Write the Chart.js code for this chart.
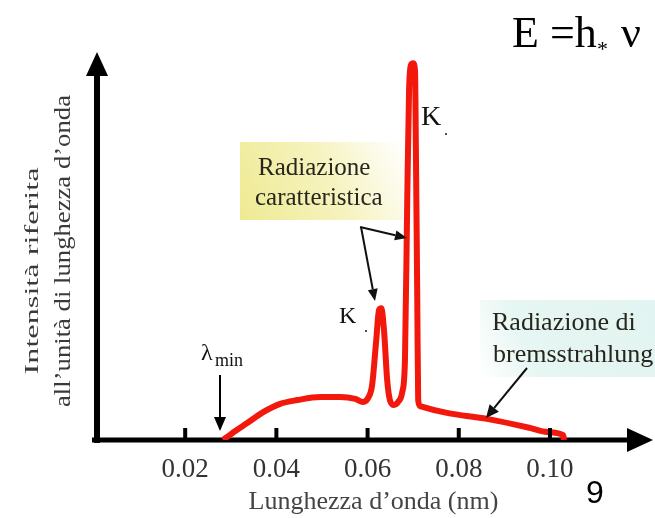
<!DOCTYPE html>
<html>
<head>
<meta charset="utf-8">
<script src="https://cdn.jsdelivr.net/npm/chart.js@4.4.1/dist/chart.umd.min.js"></script>
<style>
html,body{margin:0;padding:0;background:#fff;}
#wrap{width:655px;height:518px;position:relative;}
</style>
</head>
<body>
<div id="wrap"><canvas id="c" width="655" height="518"></canvas></div>
<script>
// Wavelength (nm) and intensity (arbitrary units, Kα peak = 100)
const wavelength = [0.0283,0.0310,0.0336,0.0371,0.0408,0.0446,0.0496,0.0540,0.0573,0.0590,0.0601,0.0610,0.0619,0.0625,0.0630,0.0636,0.0643,0.0649,0.0658,0.0667,0.0676,0.0682,0.0687,0.0691,0.0695,0.0700,0.0704,0.0706,0.0709,0.0711,0.0715,0.0774,0.0862,0.0956,0.0994,0.1029,0.1031];
const intensity  = [0,2.4,4.5,7.4,9.6,10.6,11.4,11.4,10.9,10.1,11.1,14.6,26.5,34.5,35.0,29.2,15.9,10.6,9.3,10.1,12.7,21.2,63.7,92.8,99.5,100,98.1,76.9,37.1,10.6,9.0,7.2,5.6,3.2,2.1,1.3,0];
const xTickValues = [0.02,0.04,0.06,0.08,0.10];
const xTickLabels = ['0.02','0.04','0.06','0.08','0.10'];
const xTitle = "Lunghezza d\u2019onda (nm)";
const yTitleLines = ["Intensit\u00e0 riferita","all\u2019unit\u00e0 di lunghezza d\u2019onda"];

const SERIF = '"Liberation Serif", "DejaVu Serif", serif';

function arrow(ctx, x1, y1, x2, y2, lw, hl, hw) {
  const a = Math.atan2(y2 - y1, x2 - x1);
  const bx = x2 - hl * Math.cos(a), by = y2 - hl * Math.sin(a);
  ctx.beginPath();
  ctx.moveTo(x1, y1); ctx.lineTo(bx, by);
  ctx.lineWidth = lw; ctx.stroke();
  ctx.beginPath();
  ctx.moveTo(x2, y2);
  ctx.lineTo(bx + hw * Math.sin(a), by - hw * Math.cos(a));
  ctx.lineTo(bx - hw * Math.sin(a), by + hw * Math.cos(a));
  ctx.closePath(); ctx.fill();
}

const decor = {
  id: 'decor',
  beforeDatasetsDraw(chart) {
    const ctx = chart.ctx;
    const xs = chart.scales.x, ys = chart.scales.y;
    const x0 = xs.getPixelForValue(0) + 3;
    const y0 = ys.getPixelForValue(0);
    ctx.save();
    // highlight boxes
    let g = ctx.createLinearGradient(240, 220, 403, 142);
    g.addColorStop(0, '#eeea92'); g.addColorStop(0.55, '#f6f3bf'); g.addColorStop(1, '#ffffff');
    ctx.fillStyle = g; ctx.fillRect(240, 142, 163, 78);
    g = ctx.createLinearGradient(480, 377, 655, 300);
    g.addColorStop(0, '#ffffff'); g.addColorStop(0.3, '#e6f6f2'); g.addColorStop(1, '#e2f4f1');
    ctx.fillStyle = g; ctx.fillRect(480, 300, 175, 77);
    // axes
    ctx.strokeStyle = '#000'; ctx.fillStyle = '#000';
    ctx.lineCap = 'butt';
    arrow(ctx, x0, y0 + 3, x0, chart.chartArea.top, 6, 24, 11);
    arrow(ctx, x0 - 5, y0, chart.chartArea.right, y0, 5, 26, 12);
    ctx.restore();
  },
  afterDatasetsDraw(chart) {
    const ctx = chart.ctx;
    const xs = chart.scales.x, ys = chart.scales.y;
    const y0 = ys.getPixelForValue(0);
    ctx.save();
    ctx.fillStyle = '#000'; ctx.strokeStyle = '#000';
    // tick marks (inside)
    xTickValues.forEach(v => {
      const px = xs.getPixelForValue(v);
      ctx.fillRect(px - 2, y0 - 12, 4, 12);
    });
    // y title (stretched)
    const yl = [
      {text: yTitleLines[0], x: 38, cy: 271, len: 207, size: 19},
      {text: yTitleLines[1], x: 70, cy: 251, len: 312, size: 23}
    ];
    yl.forEach(l => {
      ctx.save();
      ctx.font = l.size + 'px ' + SERIF;
      ctx.fillStyle = '#3a3a3a';
      const w = ctx.measureText(l.text).width;
      ctx.translate(l.x, l.cy);
      ctx.rotate(-Math.PI / 2);
      ctx.scale(l.len / w, 1);
      ctx.textAlign = 'center'; ctx.textBaseline = 'alphabetic';
      ctx.fillText(l.text, 0, 0);
      ctx.restore();
    });
    // annotation texts
    ctx.textAlign = 'left'; ctx.textBaseline = 'alphabetic';
    ctx.fillStyle = '#26261e';
    ctx.font = '25px ' + SERIF;
    ctx.fillText('Radiazione', 258, 175);
    ctx.fillText('caratteristica', 255, 205);
    ctx.font = '26px ' + SERIF;
    ctx.fillText('Radiazione di', 492, 330);
    ctx.fillText('bremsstrahlung', 493, 362);
    ctx.fillStyle = '#111';
    ctx.font = '28px ' + SERIF;
    ctx.fillText('K', 421, 125);
    ctx.font = '24px ' + SERIF;
    ctx.fillText('K', 339, 323);
    ctx.font = '16px ' + SERIF;
    ctx.fillText('.', 444, 135);
    ctx.fillText('.', 364, 332);
    ctx.font = '24px ' + SERIF;
    ctx.fillText('\u03bb', 201, 360);
    ctx.font = '18px ' + SERIF;
    ctx.fillText('min', 215, 366);
    ctx.fillStyle = '#000';
    ctx.font = '44px ' + SERIF;
    ctx.fillText('E =h', 512, 47);
    ctx.font = '22px ' + SERIF;
    ctx.fillText('*', 597, 56);
    ctx.font = '44px ' + SERIF;
    ctx.fillText('\u03bd', 621, 47);
    ctx.font = '32px "Liberation Sans", Arial, sans-serif';
    ctx.fillText('9', 586, 503);
    // arrows
    ctx.strokeStyle = '#111'; ctx.fillStyle = '#111';
    arrow(ctx, 360, 227, 407, 238, 2, 12, 5);
    arrow(ctx, 361, 227, 375, 301, 2, 12, 5);
    arrow(ctx, 527, 368, 486, 418, 2, 13, 6);
    ctx.strokeStyle = '#000'; ctx.fillStyle = '#000';
    arrow(ctx, 220, 375, 220, 431, 2, 14, 6);
    ctx.restore();
  }
};

new Chart(document.getElementById('c'), {
  type: 'line',
  data: {
    datasets: [{
      data: wavelength.map((x, i) => ({x: x, y: intensity[i]})),
      borderColor: '#f2180c',
      borderWidth: 6,
      pointRadius: 0,
      fill: false,
      cubicInterpolationMode: 'monotone',
      borderJoinStyle: 'round',
      borderCapStyle: 'butt'
    }]
  },
  options: {
    responsive: false,
    animation: false,
    events: [],
    layout: {padding: {left: 94, right: 2, top: 52, bottom: 0}},
    plugins: {legend: {display: false}, tooltip: {enabled: false}, title: {display: false}},
    scales: {
      x: {
        type: 'linear', min: 0, max: 0.1226,
        grid: {display: false, drawTicks: false},
        border: {display: false},
        afterBuildTicks: s => { s.ticks = xTickValues.map(v => ({value: v})); },
        afterFit: s => { s.height = 78; },
        ticks: {
          autoSkip: false, maxRotation: 0,
          padding: 14,
          color: '#333',
          font: {family: SERIF, size: 27},
          callback: (v) => { const i = xTickValues.findIndex(t => Math.abs(t - v) < 1e-9); return i >= 0 ? xTickLabels[i] : ''; }
        },
        title: {
          display: true, text: xTitle, color: '#444',
          font: {family: SERIF, size: 26},
          padding: {top: 0, bottom: 0}
        }
      },
      y: {
        type: 'linear', min: 0, max: 103, display: false
      }
    }
  },
  plugins: [decor]
});
</script>
</body>
</html>
